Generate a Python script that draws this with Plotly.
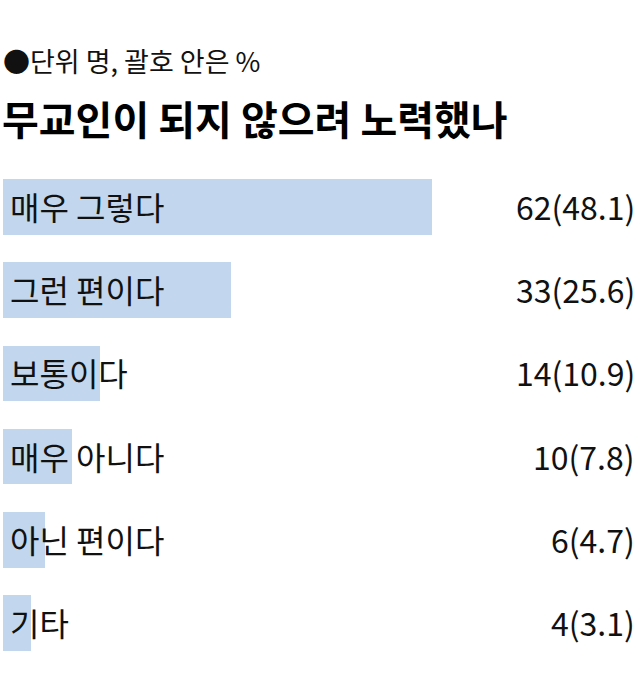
import plotly.graph_objects as go

categories = ["매우 그렇다", "그런 편이다", "보통이다", "매우 아니다", "아닌 편이다", "기타"]
counts = [62, 33, 14, 10, 6, 4]
percents = [48.1, 25.6, 10.9, 7.8, 4.7, 3.1]
value_labels = [f"{c}({p})" for c, p in zip(counts, percents)]

W, H = 640, 679
px_per_unit = 6.92
x0_px = 3
row0_px = 207
row_gap = 83.2

FONT = "Noto Sans CJK KR"

fig = go.Figure()
fig.add_trace(go.Bar(
    x=counts, y=list(range(len(categories))), orientation="h",
    marker=dict(color="#c2d7ee", line=dict(width=0)),
    width=0.67, hoverinfo="skip", showlegend=False,
))

annotations = []
for i, (cat, lab) in enumerate(zip(categories, value_labels)):
    annotations.append(dict(x=0, y=i, xref="x", yref="y", text=cat, showarrow=False,
                            xanchor="left", yanchor="middle", xshift=5, yshift=1,
                            font=dict(family=FONT, size=32, color="#111111")))
    annotations.append(dict(x=1, y=i, xref="paper", yref="y", text=lab, showarrow=False,
                            xanchor="right", yanchor="middle", xshift=-3, yshift=1,
                            font=dict(family=FONT, size=32, color="#111111")))

annotations.append(dict(x=0, y=1 - 60 / H, xref="paper", yref="paper", text="●단위 명, 괄호 안은 %",
                        showarrow=False, xanchor="left", yanchor="middle", xshift=1,
                        font=dict(family=FONT, size=27, color="#111111")))
annotations.append(dict(x=0, y=1 - 118 / H, xref="paper", yref="paper", text="<b>무교인이 되지 않으려 노력했나</b>",
                        showarrow=False, xanchor="left", yanchor="middle", xshift=0,
                        font=dict(family=FONT, size=40, color="#000000")))

fig.update_layout(
    width=W, height=H,
    margin=dict(l=0, r=0, t=0, b=0),
    paper_bgcolor="white", plot_bgcolor="white",
    xaxis=dict(range=[-x0_px / px_per_unit, (W - x0_px) / px_per_unit], visible=False, fixedrange=True),
    yaxis=dict(range=[(H - row0_px) / row_gap, -row0_px / row_gap], visible=False, fixedrange=True),
    annotations=annotations,
    bargap=0,
)

fig.write_html("out.html", config={"displayModeBar": False},
               post_script="document.body.style.margin='0';document.body.style.overflow='hidden';")
